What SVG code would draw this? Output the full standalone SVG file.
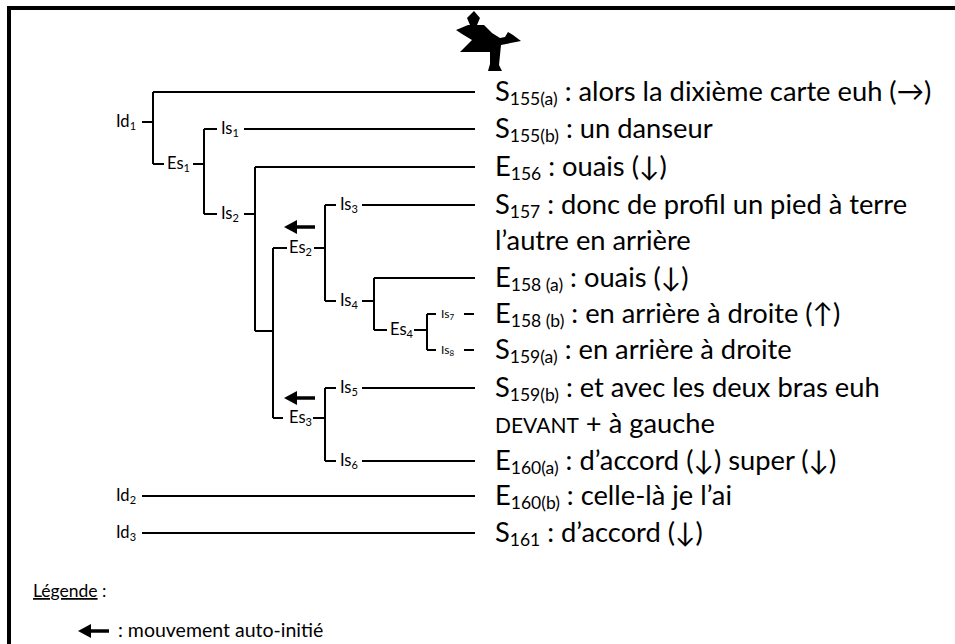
<svg xmlns="http://www.w3.org/2000/svg" width="955" height="644" viewBox="0 0 955 644">
<style>
.ln{stroke:#000;stroke-width:2;fill:none}
.fr{stroke:#000;stroke-width:4;fill:none}
.lab{font-family:Lato,"Open Sans","DejaVu Sans",sans-serif;font-size:16.5px;fill:#000}
.labs{font-family:Lato,"Open Sans","DejaVu Sans",sans-serif;font-size:12px;fill:#000}
.sub{font-size:11px}
.subs{font-size:8px}
.txt{font-family:Lato,"Open Sans","DejaVu Sans",sans-serif;font-size:27.3px;fill:#000}
.ts{font-size:17.5px}
.leg{font-family:Lato,"Open Sans","DejaVu Sans",sans-serif;font-size:17.5px;fill:#000}
.leg2{font-family:Lato,"Open Sans","DejaVu Sans",sans-serif;font-size:19.5px;fill:#000}
</style>
<defs>
<g id="arr"><path d="M0,0 H-22" stroke="#000" stroke-width="3.5"/><polygon points="-31,0 -18,-7 -18,7" fill="#000"/></g>
</defs>
<rect width="955" height="644" fill="#fff"/>
<g id="frame"><path class="fr" d="M9,6 V644 M7,8 H955"/></g>
<g id="icon" fill="#000">
<path d="M474,11 L480,18 L477,25 L470,25 L467,18 Z"/>
<path d="M456,30 L468,25 L484,25 L492,33 L500,38 L505,37 L508,32 L513,35 L521,41 L501,45 L499,65 L502,71 L488,71 L490,64 L490,52 L460,52 L472,40 L462,34 Z"/>
</g>
<g id="connectors">
<path class="ln" d="M142,122 H153 M153,92 V164 M153,92 H475 M153,164 H164 M193,164 H204 M204,129 V214 M204,129 H217 M244,129 H475 M204,214 H217 M244,214 H255 M255,167 V331 M255,167 H475 M255,331 H273"/>
<path class="ln" d="M273,248 V418 M273,248 H287 M314,248 H325 M325,205 V301 M325,205 H336 M362,205 H475 M325,301 H336 M362,301 H374 M374,278 V330 M374,278 H475 M374,330 H387 M414,330 H427 M427,314 V350 M427,314 H436 M464,314 H474 M427,350 H436 M464,350 H474"/>
<path class="ln" d="M325,388 V461 M325,388 H336 M362,388 H475 M273,418 H283 M313,418 H325 M325,461 H336 M362,461 H475 M142,496 H475 M142,533 H475"/>
<use href="#arr" x="315" y="227"/>
<use href="#arr" x="315" y="398"/>
</g>
<g id="nodes">
<g id="Id1"><text class="lab" x="116" y="127">Id<tspan class="sub" dy="3">1</tspan></text></g>
<g id="Es1"><text class="lab" x="167" y="169">Es<tspan class="sub" dy="3">1</tspan></text></g>
<g id="Is1"><text class="lab" x="221" y="134">Is<tspan class="sub" dy="3">1</tspan></text></g>
<g id="Is2"><text class="lab" x="221" y="219">Is<tspan class="sub" dy="3">2</tspan></text></g>
<g id="Es2"><text class="lab" x="289" y="253">Es<tspan class="sub" dy="3">2</tspan></text></g>
<g id="Is3"><text class="lab" x="340" y="210">Is<tspan class="sub" dy="3">3</tspan></text></g>
<g id="Is4"><text class="lab" x="340" y="306">Is<tspan class="sub" dy="3">4</tspan></text></g>
<g id="Es4"><text class="lab" x="390" y="335">Es<tspan class="sub" dy="3">4</tspan></text></g>
<g id="Is7"><text class="labs" x="441" y="318">Is<tspan class="subs" dy="2">7</tspan></text></g>
<g id="Is8"><text class="labs" x="441" y="354">Is<tspan class="subs" dy="2">8</tspan></text></g>
<g id="Is5"><text class="lab" x="340" y="393">Is<tspan class="sub" dy="3">5</tspan></text></g>
<g id="Es3"><text class="lab" x="289" y="423">Es<tspan class="sub" dy="3">3</tspan></text></g>
<g id="Is6"><text class="lab" x="340" y="466">Is<tspan class="sub" dy="3">6</tspan></text></g>
<g id="Id2"><text class="lab" x="116" y="501">Id<tspan class="sub" dy="3">2</tspan></text></g>
<g id="Id3"><text class="lab" x="116" y="538">Id<tspan class="sub" dy="3">3</tspan></text></g>

<g id="S155a"><text class="txt" x="495" y="101">S<tspan class="ts" dy="4">155(a)</tspan><tspan dy="-4"> : alors la dixième carte euh (→)</tspan></text></g>
<g id="S155b"><text class="txt" x="495" y="138">S<tspan class="ts" dy="4">155(b)</tspan><tspan dy="-4"> : un danseur</tspan></text></g>
<g id="E156"><text class="txt" x="495" y="176">E<tspan class="ts" dy="4">156</tspan><tspan dy="-4"> : ouais (↓)</tspan></text></g>
<g id="S157"><text class="txt" x="495" y="214">S<tspan class="ts" dy="4">157</tspan><tspan dy="-4"> : donc de profil un pied à terre</tspan><tspan x="495" y="250">l’autre en arrière</tspan></text></g>
<g id="E158a"><text class="txt" x="495" y="287">E<tspan class="ts" dy="4">158 (a)</tspan><tspan dy="-4"> : ouais (↓)</tspan></text></g>
<g id="E158b"><text class="txt" x="495" y="323">E<tspan class="ts" dy="4">158 (b)</tspan><tspan dy="-4"> : en arrière à droite (↑)</tspan></text></g>
<g id="S159a"><text class="txt" x="495" y="359">S<tspan class="ts" dy="4">159(a)</tspan><tspan dy="-4"> : en arrière à droite</tspan></text></g>
<g id="S159b"><text class="txt" x="495" y="397">S<tspan class="ts" dy="4">159(b)</tspan><tspan dy="-4"> : et avec les deux bras euh</tspan><tspan x="495" y="433"><tspan font-size="21">DEVANT</tspan> + à gauche</tspan></text></g>
<g id="E160a"><text class="txt" x="495" y="470">E<tspan class="ts" dy="4">160(a)</tspan><tspan dy="-4"> : d’accord (↓) super (↓)</tspan></text></g>
<g id="E160b"><text class="txt" x="495" y="505">E<tspan class="ts" dy="4">160(b)</tspan><tspan dy="-4"> : celle-là je l’ai</tspan></text></g>
<g id="S161"><text class="txt" x="495" y="542">S<tspan class="ts" dy="4">161</tspan><tspan dy="-4"> : d’accord (↓)</tspan></text></g>
</g>
<g id="legend">
<text class="leg" x="33" y="597"><tspan text-decoration="underline">Légende</tspan> :</text>
<use href="#arr" x="109" y="631"/>
<text class="leg2" x="118" y="637">: mouvement auto-initié</text>
</g>
</svg>
